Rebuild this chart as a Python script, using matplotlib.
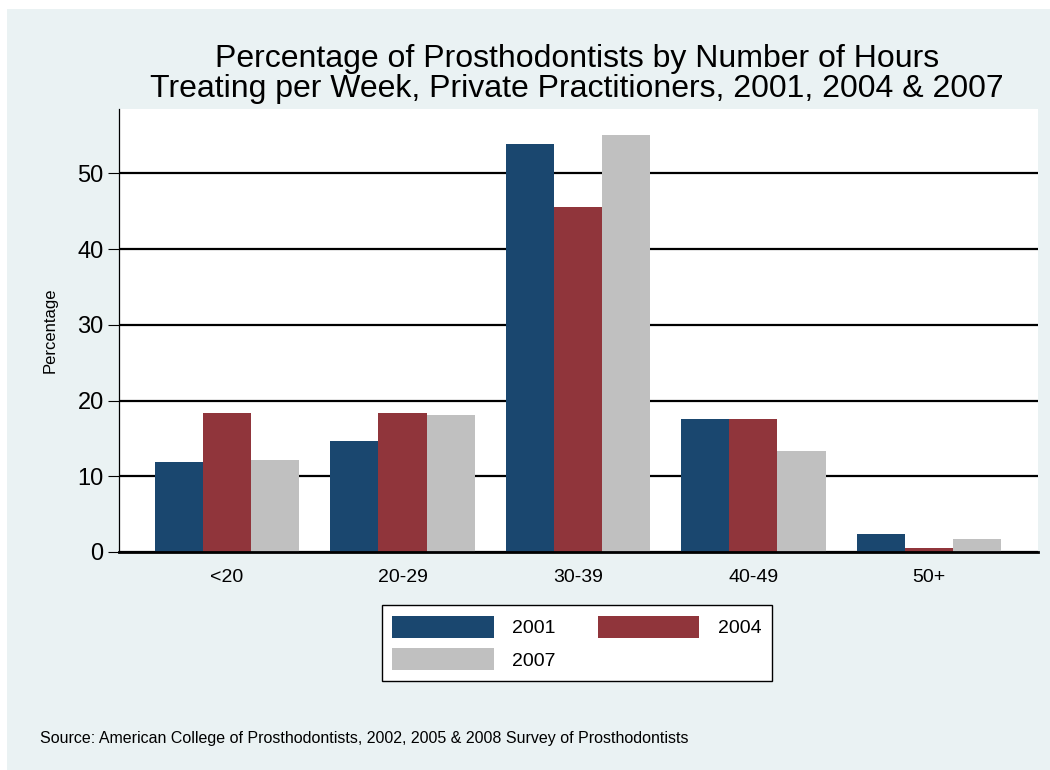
import numpy as np
import matplotlib.pyplot as plt
from matplotlib.patches import Patch, Rectangle

plt.rcParams['font.family'] = ['Liberation Sans', 'DejaVu Sans']

# data
categories = ['<20', '20-29', '30-39', '40-49', '50+']
years = ['2001', '2004', '2007']
pct_2001 = [11.9, 14.6, 53.9, 17.5, 2.4]
pct_2004 = [18.4, 18.4, 45.6, 17.6, 0.5]
pct_2007 = [12.2, 18.1, 55.1, 13.3, 1.7]
colors = ['#1A476F', '#90353B', '#C0C0C0']
bg = '#EAF2F3'

fig = plt.figure(figsize=(10.5, 7.7), dpi=100, facecolor='white')
fig.patches.append(Rectangle((7 / 1050, 0), 1, (770 - 9) / 770, transform=fig.transFigure,
                             facecolor=bg, edgecolor='none', zorder=-10))
ax = fig.add_axes([119 / 1050, (770 - 552) / 770, (1038 - 119) / 1050, (552 - 109) / 770])
ax.set_facecolor('white')

x = np.arange(len(categories))
w = 0.274
for i, (vals, c) in enumerate(zip([pct_2001, pct_2004, pct_2007], colors)):
    ax.bar(x + (i - 1) * w, vals, width=w, color=c, edgecolor='none', zorder=3)

ax.set_xlim(-0.6156, 4.622)
ax.set_ylim(0, 58.5)
ax.set_yticks([0, 10, 20, 30, 40, 50])
ax.yaxis.grid(True, color='black', linewidth=1.6, zorder=1)
ax.set_axisbelow(True)
ax.set_xticks(x)
ax.set_xticklabels(categories, fontsize=14)
ax.tick_params(axis='x', length=0, pad=12)
ax.tick_params(axis='y', labelsize=17, length=8, width=0.8, pad=3)
for s in ['top', 'right']:
    ax.spines[s].set_visible(False)
ax.spines['left'].set_linewidth(0.9)
ax.spines['bottom'].set_linewidth(2)
ax.spines['bottom'].set_zorder(4)
ax.set_ylabel('Percentage', fontsize=12, labelpad=14)

fig.text(577 / 1050, (770 - 74) / 770,
         'Percentage of Prosthodontists by Number of Hours\nTreating per Week, Private Practitioners, 2001, 2004 & 2007',
         ha='center', va='center', fontsize=23, linespacing=1.0)

handles = [Patch(facecolor=c, edgecolor='none', label=y) for c, y in zip(colors, years)]
order = [0, 2, 1]
leg = fig.legend([handles[i] for i in order], [years[i] for i in order],
                 loc='center', bbox_to_anchor=(577 / 1050, (770 - 643) / 770),
                 ncol=2, fontsize=14, frameon=True, fancybox=False, framealpha=1,
                 handlelength=5.2, handleheight=1.4, handletextpad=0.95,
                 columnspacing=2.2, borderpad=0.55, labelspacing=0.5)
leg.get_frame().set_edgecolor('black')
leg.get_frame().set_facecolor('white')
leg.get_frame().set_linewidth(1)

fig.text(40 / 1050, (770 - 738) / 770,
         'Source: American College of Prosthodontists, 2002, 2005 & 2008 Survey of Prosthodontists',
         ha='left', va='center', fontsize=11.5)

fig.savefig('out.png', dpi=100, facecolor=fig.get_facecolor())
